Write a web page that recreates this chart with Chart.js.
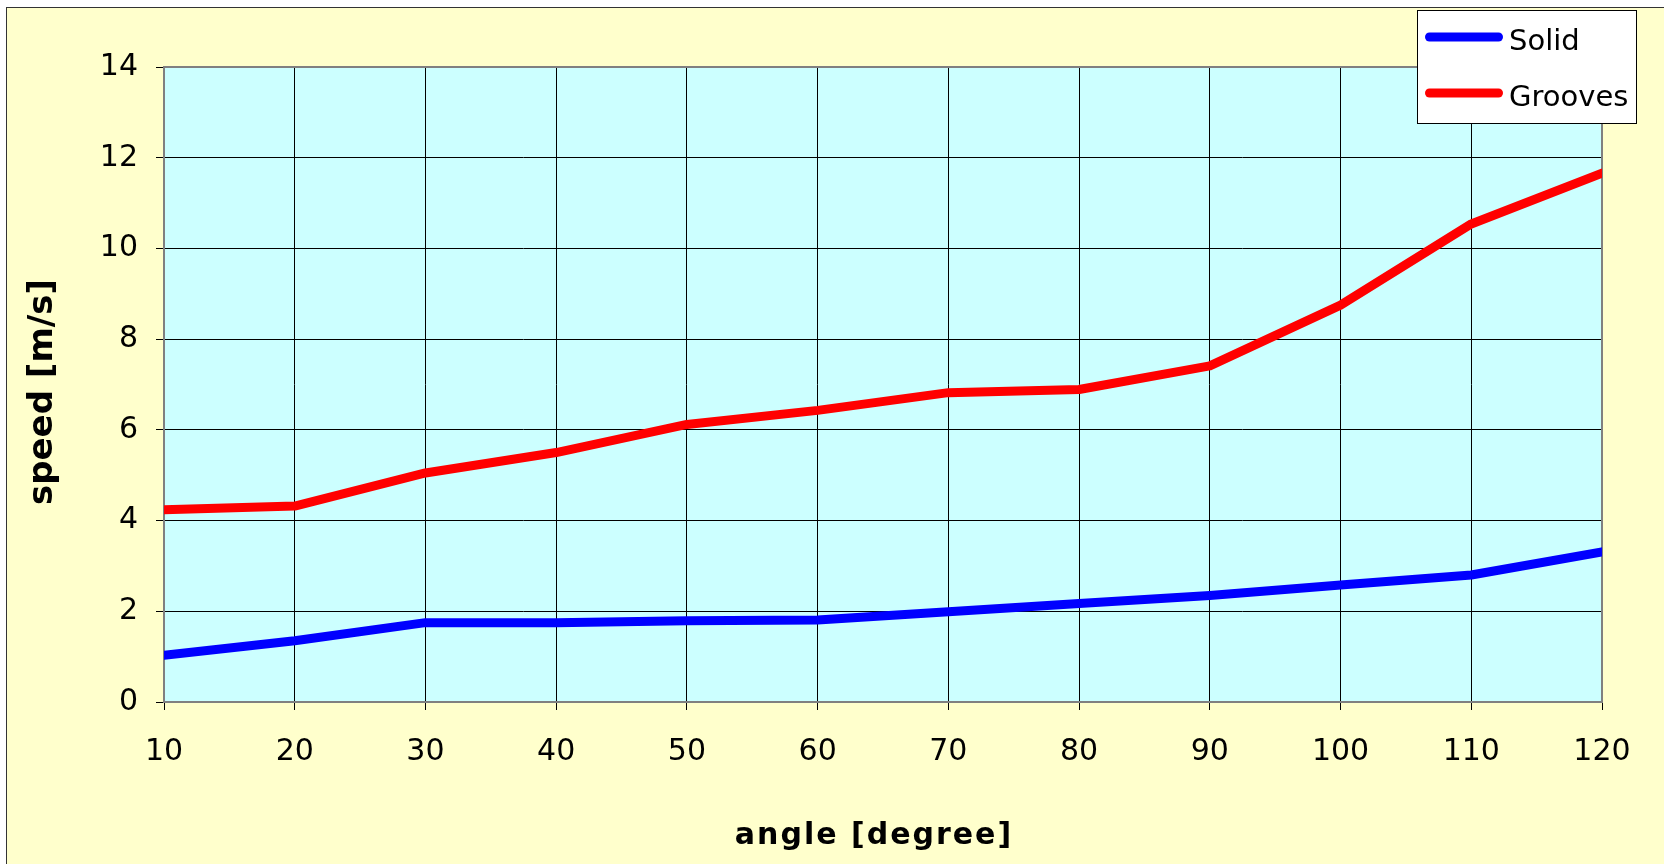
<!DOCTYPE html>
<html>
<head>
<meta charset="utf-8">
<title>speed vs angle</title>
<script src="https://cdn.jsdelivr.net/npm/chart.js@4.4.1/dist/chart.umd.min.js"></script>
<style>
	html, body { margin:0; padding:0; background:#fff; }
	canvas { display:block; }
</style>
</head>
<body>
<canvas id="speedChart" width="1664" height="864"></canvas>
<script>
	// ------- data -----------------------------------------
	const angles      = [10, 20, 30, 40, 50, 60, 70, 80, 90, 100, 110, 120];
	const solid       = [1.03, 1.35, 1.75, 1.75, 1.79, 1.81, 1.99, 2.17, 2.35, 2.58, 2.80, 3.31];
	const grooves     = [4.24, 4.32, 5.05, 5.50, 6.12, 6.43, 6.82, 6.89, 7.41, 8.75, 10.54, 11.66];
	const seriesNames = ["Solid", "Grooves"];
	const xTitle      = "angle [degree]";
	const yTitle      = "speed [m/s]";

	const FONT = "DejaVu Sans";

	function toPoints(ys) {
		return angles.map((a, i) => ({ x: a, y: ys[i] }));
	}

	// background, plot area fill and plot frame
	const framePlugin = {
		id: 'frame',
		beforeDraw(chart) {
			const { ctx, chartArea: a } = chart;
			ctx.save();
			ctx.fillStyle = '#ffffff';
			ctx.fillRect(0, 0, chart.width, chart.height);
			ctx.fillStyle = '#FFFFCC';
			ctx.fillRect(6, 7, chart.width, chart.height);
			ctx.strokeStyle = '#333333';
			ctx.lineWidth = 1;
			ctx.strokeRect(6.5, 7.5, chart.width + 20, chart.height + 20);
			ctx.fillStyle = '#CCFFFF';
			ctx.fillRect(a.left, a.top, a.right - a.left, a.bottom - a.top);
			ctx.restore();
		},
		beforeDatasetsDraw(chart) {
			const { ctx, chartArea: a } = chart;
			ctx.save();
			ctx.strokeStyle = '#808080';
			ctx.lineWidth = 2;
			ctx.strokeRect(a.left, a.top, a.right - a.left, a.bottom - a.top);
			ctx.restore();
		}
	};

	// axis titles - drawn by hand to put them where the original has them
	const axisTitlePlugin = {
		id: 'axisTitles',
		afterDraw(chart) {
			const { ctx } = chart;
			ctx.save();
			ctx.fillStyle = '#000000';
			ctx.textAlign = 'center';
			ctx.textBaseline = 'middle';
			ctx.font = "bold 30px '" + FONT + "'";
			ctx.letterSpacing = '2px';
			ctx.fillText(xTitle, 874, 836);
			ctx.letterSpacing = '0px';
			ctx.font = "bold 34px '" + FONT + "'";
			ctx.translate(43, 392);
			ctx.rotate(-Math.PI / 2);
			ctx.fillText(yTitle, 0, 0);
			ctx.restore();
		}
	};

	// legend box in the top right corner (over the plot)
	const boxLegendPlugin = {
		id: 'boxLegend',
		afterDraw(chart) {
			const { ctx } = chart;
			const x = 1417, y = 10, w = 219, h = 113;
			ctx.save();
			ctx.fillStyle = '#ffffff';
			ctx.fillRect(x, y, w, h);
			ctx.strokeStyle = '#000000';
			ctx.lineWidth = 1;
			ctx.strokeRect(x + 0.5, y + 0.5, w, h);
			ctx.font = "29px '" + FONT + "'";
			ctx.textBaseline = 'middle';
			ctx.fillStyle = '#000000';
			chart.data.datasets.forEach((ds, i) => {
				const ly = y + 27 + i * 56;
				ctx.strokeStyle = ds.borderColor;
				ctx.lineWidth = 9;
				ctx.lineCap = 'round';
				ctx.beginPath();
				ctx.moveTo(x + 12.5, ly);
				ctx.lineTo(x + 81.5, ly);
				ctx.stroke();
				ctx.fillText(ds.label, x + 92, ly + 5);
			});
			ctx.restore();
		}
	};

	const tickFont = { family: FONT, size: 30 };

	const ctx = document.getElementById('speedChart');
	window.chart = new Chart(ctx, {
		type: 'line',
		data: {
			datasets: [
				{ label: seriesNames[0], data: toPoints(solid),   borderColor: '#0000FF' },
				{ label: seriesNames[1], data: toPoints(grooves), borderColor: '#FF0000' }
			]
		},
		options: {
			responsive: false,
			animation: false,
			devicePixelRatio: 1,
			layout: { padding: { top: 67, right: 62, left: 0, bottom: 0 } },
			elements: {
				line: { borderWidth: 9, borderCapStyle: 'round', borderJoinStyle: 'round', tension: 0, fill: false },
				point: { radius: 0, hoverRadius: 0 }
			},
			plugins: {
				legend: { display: false },
				tooltip: { enabled: false }
			},
			scales: {
				x: {
					type: 'linear',
					min: 10, max: 120,
					ticks: { stepSize: 10, autoSkip: false, maxRotation: 0, color: '#000', font: tickFont, padding: 24 },
					grid: { color: '#000', lineWidth: 1, tickLength: 8 },
					border: { display: false },
					afterFit(scale) { scale.height = 162; }
				},
				y: {
					min: 0, max: 14,
					ticks: { stepSize: 2, color: '#000', font: tickFont, padding: 18 },
					grid: { color: '#000', lineWidth: 1, tickLength: 8 },
					border: { display: false },
					afterFit(scale) { scale.width = 164; }
				}
			}
		},
		plugins: [framePlugin, axisTitlePlugin, boxLegendPlugin]
	});
</script>
</body>
</html>
